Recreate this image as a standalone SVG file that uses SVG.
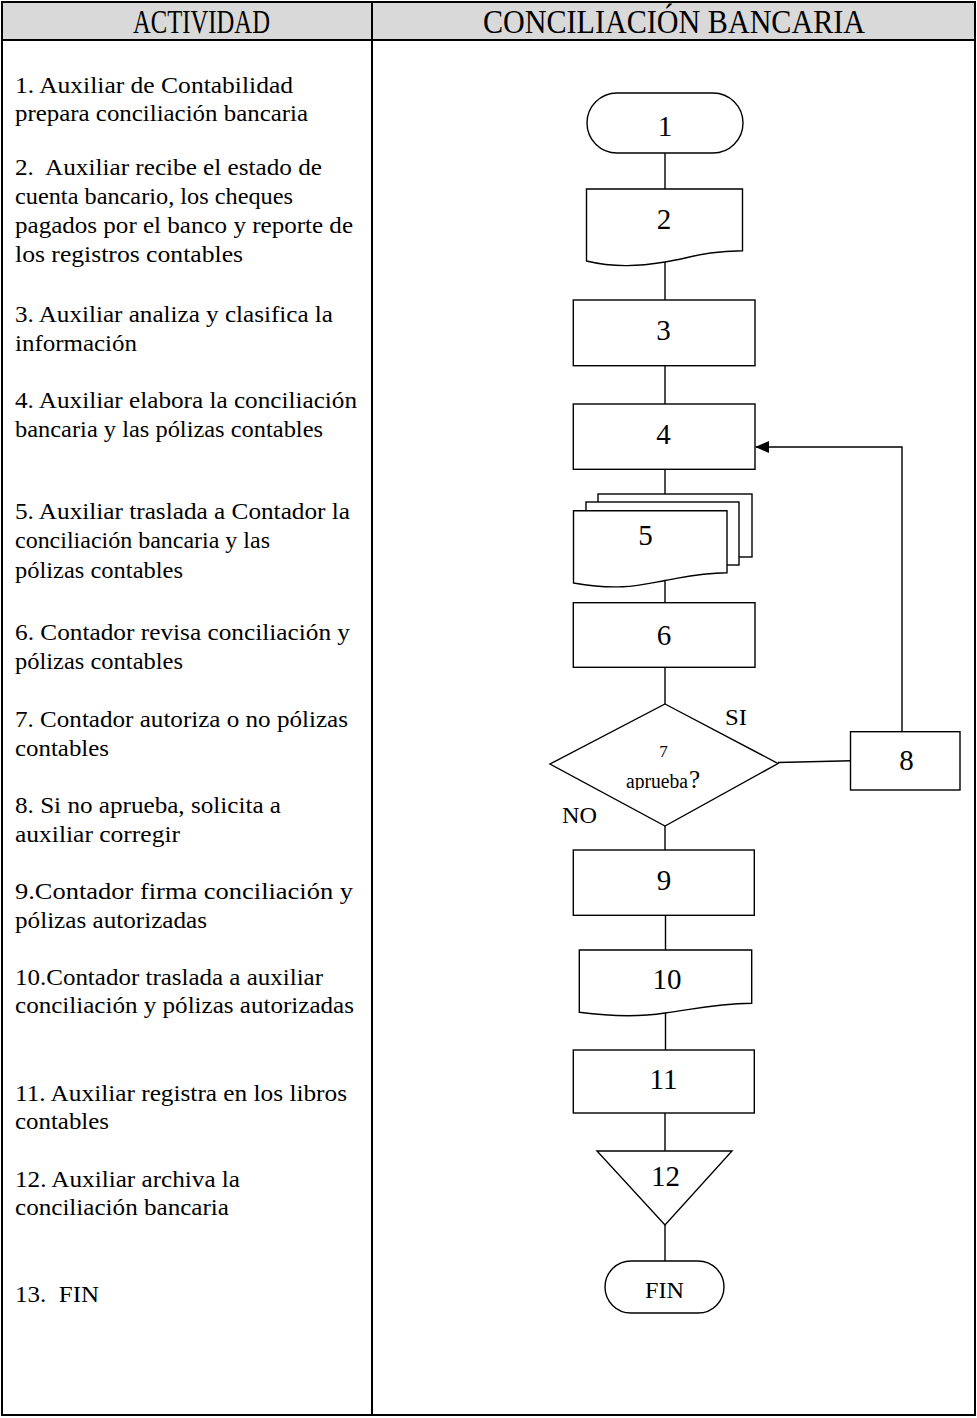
<svg xmlns="http://www.w3.org/2000/svg" width="977" height="1418" viewBox="0 0 977 1418">
<style>
.frame{fill:none;stroke:#000;stroke-width:2}
.hdr{fill:#d9d9d9;stroke:none}
.shape{fill:#fff;stroke:#000;stroke-width:1.4}
.conn{fill:none;stroke:#000;stroke-width:1.4}
.t{font-family:"Liberation Serif","Times New Roman",Times,serif;fill:#000}
.h{font-size:33px}
.act{font-size:24px;white-space:pre}
.num{font-size:29px;text-anchor:middle}
.lbl{font-size:23px}
</style>
<defs>
<marker id="arr" markerWidth="14" markerHeight="12" refX="13" refY="6" orient="auto" markerUnits="userSpaceOnUse">
<path d="M0,0 L14,6 L0,12 Z" fill="#000"/>
</marker>
<clipPath id="clip7"><rect x="600" y="730" width="130" height="60"/></clipPath>
</defs>
<rect x="0" y="0" width="977" height="1418" fill="#fff"/>
<g id="table">
<rect class="hdr" x="2" y="2" width="973" height="38"/>
<rect class="frame" x="2" y="2" width="973" height="1413"/>
<line class="frame" x1="2" y1="40" x2="975" y2="40"/>
<line class="frame" x1="372" y1="2" x2="372" y2="1415"/>
<text class="t h" x="133" y="33" textLength="137" lengthAdjust="spacingAndGlyphs">ACTIVIDAD</text>
<text class="t h" x="483" y="33" textLength="382" lengthAdjust="spacingAndGlyphs">CONCILIACIÓN BANCARIA</text>
</g>
<g id="activities">
<text class="t act" x="15" y="93" textLength="278" lengthAdjust="spacingAndGlyphs">1. Auxiliar de Contabilidad</text>
<text class="t act" x="15" y="121" textLength="293" lengthAdjust="spacingAndGlyphs">prepara conciliación bancaria</text>
<text class="t act" x="15" y="175" textLength="307" lengthAdjust="spacingAndGlyphs">2.  Auxiliar recibe el estado de</text>
<text class="t act" x="15" y="204" textLength="278" lengthAdjust="spacingAndGlyphs">cuenta bancario, los cheques</text>
<text class="t act" x="15" y="233" textLength="338" lengthAdjust="spacingAndGlyphs">pagados por el banco y reporte de</text>
<text class="t act" x="15" y="262" textLength="228" lengthAdjust="spacingAndGlyphs">los registros contables</text>
<text class="t act" x="15" y="322" textLength="318" lengthAdjust="spacingAndGlyphs">3. Auxiliar analiza y clasifica la</text>
<text class="t act" x="15" y="351" textLength="122" lengthAdjust="spacingAndGlyphs">información</text>
<text class="t act" x="15" y="408" textLength="342" lengthAdjust="spacingAndGlyphs">4. Auxiliar elabora la conciliación</text>
<text class="t act" x="15" y="437" textLength="308" lengthAdjust="spacingAndGlyphs">bancaria y las pólizas contables</text>
<text class="t act" x="15" y="519" textLength="335" lengthAdjust="spacingAndGlyphs">5. Auxiliar traslada a Contador la</text>
<text class="t act" x="15" y="548" textLength="255" lengthAdjust="spacingAndGlyphs">conciliación bancaria y las</text>
<text class="t act" x="15" y="578" textLength="168" lengthAdjust="spacingAndGlyphs">pólizas contables</text>
<text class="t act" x="15" y="640" textLength="335" lengthAdjust="spacingAndGlyphs">6. Contador revisa conciliación y</text>
<text class="t act" x="15" y="669" textLength="168" lengthAdjust="spacingAndGlyphs">pólizas contables</text>
<text class="t act" x="15" y="727" textLength="333" lengthAdjust="spacingAndGlyphs">7. Contador autoriza o no pólizas</text>
<text class="t act" x="15" y="756" textLength="94" lengthAdjust="spacingAndGlyphs">contables</text>
<text class="t act" x="15" y="813" textLength="266" lengthAdjust="spacingAndGlyphs">8. Si no aprueba, solicita a</text>
<text class="t act" x="15" y="842" textLength="165" lengthAdjust="spacingAndGlyphs">auxiliar corregir</text>
<text class="t act" x="15" y="899" textLength="338" lengthAdjust="spacingAndGlyphs">9.Contador firma conciliación y</text>
<text class="t act" x="15" y="928" textLength="192" lengthAdjust="spacingAndGlyphs">pólizas autorizadas</text>
<text class="t act" x="15" y="985" textLength="308" lengthAdjust="spacingAndGlyphs">10.Contador traslada a auxiliar</text>
<text class="t act" x="15" y="1013" textLength="339" lengthAdjust="spacingAndGlyphs">conciliación y pólizas autorizadas</text>
<text class="t act" x="15" y="1101" textLength="332" lengthAdjust="spacingAndGlyphs">11. Auxiliar registra en los libros</text>
<text class="t act" x="15" y="1129" textLength="94" lengthAdjust="spacingAndGlyphs">contables</text>
<text class="t act" x="15" y="1187" textLength="225" lengthAdjust="spacingAndGlyphs">12. Auxiliar archiva la</text>
<text class="t act" x="15" y="1215" textLength="214" lengthAdjust="spacingAndGlyphs">conciliación bancaria</text>
<text class="t act" x="15" y="1302" textLength="84" lengthAdjust="spacingAndGlyphs">13.  FIN</text>
</g>
<g id="connectors">
<line class="conn" x1="665" y1="153" x2="665" y2="189"/>
<line class="conn" x1="665" y1="262" x2="665" y2="300"/>
<line class="conn" x1="665" y1="366" x2="665" y2="404"/>
<line class="conn" x1="665" y1="469" x2="665" y2="494"/>
<line class="conn" x1="665" y1="580" x2="665" y2="603"/>
<line class="conn" x1="665" y1="667" x2="665" y2="704"/>
<line class="conn" x1="778" y1="762.5" x2="851" y2="760.7"/>
<polyline class="conn" points="902,732 902,447 756,447" marker-end="url(#arr)"/>
<line class="conn" x1="665" y1="826" x2="665" y2="850"/>
<line class="conn" x1="665.5" y1="915" x2="665.5" y2="950"/>
<line class="conn" x1="665.5" y1="1013" x2="665.5" y2="1050"/>
<line class="conn" x1="665" y1="1113" x2="665" y2="1151"/>
<line class="conn" x1="665" y1="1225" x2="665" y2="1261"/>
<text class="t lbl" x="725" y="725" textLength="22" lengthAdjust="spacingAndGlyphs">SI</text>
<text class="t lbl" x="562" y="823" textLength="35" lengthAdjust="spacingAndGlyphs">NO</text>
</g>
<g id="n1">
<rect class="shape" x="587" y="93" width="156" height="60" rx="30" ry="30"/>
<text class="t num" x="665" y="136">1</text>
</g>
<g id="n2">
<path class="shape" d="M586.5,189 H742.5 V250.7 C705,251 690,258 665,262 C640,266 615,268 586.5,261 Z"/>
<text class="t num" x="664" y="229">2</text>
</g>
<g id="n3">
<rect class="shape" x="573.3" y="300" width="181.7" height="65.7"/>
<text class="t num" x="663.5" y="340">3</text>
</g>
<g id="n4">
<rect class="shape" x="573.3" y="404" width="181.7" height="65.3"/>
<text class="t num" x="663.5" y="444">4</text>
</g>
<g id="n5">
<rect class="shape" x="598" y="494" width="154" height="63"/>
<rect class="shape" x="586" y="502" width="153" height="63"/>
<path class="shape" d="M573.5,510.7 H727 V572.7 C700,573 685,577 665,580.5 C640,585 620,591 573.5,583 Z"/>
<text class="t num" x="645.5" y="545">5</text>
</g>
<g id="n6">
<rect class="shape" x="573.3" y="602.7" width="181.7" height="64.6"/>
<text class="t num" x="664" y="645">6</text>
</g>
<g id="n7">
<polygon class="shape" points="665,704 778,763.5 665,826 550,764"/>
<text class="t" x="663.5" y="757" font-size="17" text-anchor="middle">7</text>
<g clip-path="url(#clip7)">
<text class="t" x="626" y="788" font-size="20" textLength="62" lengthAdjust="spacingAndGlyphs">aprueba</text>
</g>
<text class="t" x="689" y="788" font-size="25">?</text>
</g>
<g id="n8">
<rect class="shape" x="850.5" y="731.7" width="109.5" height="58.3"/>
<text class="t num" x="906.5" y="770">8</text>
</g>
<g id="n9">
<rect class="shape" x="573.3" y="850" width="181" height="65.3"/>
<text class="t num" x="664" y="890">9</text>
</g>
<g id="n10">
<path class="shape" d="M579.3,950 H751.7 V1003.3 C715,1004 695,1009 665,1013 C640,1017 615,1017 579.3,1012.3 Z"/>
<text class="t num" x="667" y="989">10</text>
</g>
<g id="n11">
<rect class="shape" x="573.3" y="1050" width="181" height="63"/>
<text class="t num" x="663.5" y="1089">11</text>
</g>
<g id="n12">
<polygon class="shape" points="597,1151 732,1151 665,1225"/>
<text class="t num" x="665.5" y="1186">12</text>
</g>
<g id="fin">
<rect class="shape" x="605" y="1261" width="119" height="52" rx="26" ry="26"/>
<text class="t" x="664.5" y="1298" font-size="24" text-anchor="middle" textLength="39" lengthAdjust="spacingAndGlyphs">FIN</text>
</g>
</svg>
